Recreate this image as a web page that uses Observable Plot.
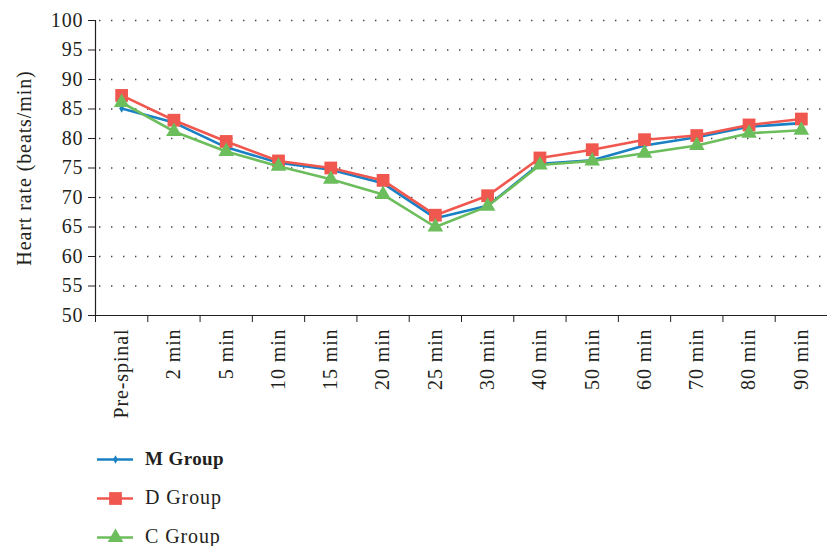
<!DOCTYPE html>
<html>
<head>
<meta charset="utf-8">
<script src="https://cdn.jsdelivr.net/npm/d3@7"></script>
<script src="https://cdn.jsdelivr.net/npm/@observablehq/plot@0.6"></script>
<style>
  html, body { margin: 0; padding: 0; background: #fff; }
  body { width: 827px; height: 546px; overflow: hidden; font-family: "Liberation Serif", "DejaVu Serif", serif; }
  #chart svg text { letter-spacing: 0.9px; }
  #legend { position: absolute; left: 97px; top: 439px; }
  .row { display: flex; align-items: center; height: 39px; }
  .row span { font-size: 20px; color: #231f20; margin-left: 12px; letter-spacing: 0.9px; }
  .row span.b { font-size: 19px; font-weight: bold; letter-spacing: 0.4px; }
</style>
</head>
<body>
<div id="chart"></div>
<div id="legend"></div>
<script>
const times = ["Pre-spinal","2 min","5 min","10 min","15 min","20 min","25 min","30 min","40 min","50 min","60 min","70 min","80 min","90 min"];
const mGroup = [85.1, 82.7, 78.5, 75.9, 74.7, 72.4, 66.5, 68.6, 75.7, 76.3, 78.8, 80.2, 82.0, 82.6];
const dGroup = [87.3, 83.1, 79.5, 76.2, 75.0, 72.9, 67.0, 70.3, 76.7, 78.1, 79.8, 80.5, 82.3, 83.3];
const cGroup = [86.1, 81.2, 77.8, 75.3, 73.1, 70.5, 65.0, 68.5, 75.5, 76.2, 77.5, 78.8, 80.9, 81.4];
const yTicks = [50, 55, 60, 65, 70, 75, 80, 85, 90, 95, 100];

const series = [
  {name: "M Group", values: mGroup, color: "#1a80c4", symbol: "diamond", r: 2.6, bold: true},
  {name: "D Group", values: dGroup, color: "#f0574f", symbol: "square", r: 7.2, bold: false},
  {name: "C Group", values: cGroup, color: "#6cbd5b", symbol: "triangle", r: 5.8, bold: false}
];

const rows = series.flatMap(s => s.values.map((v, i) => ({group: s.name, i, v})));
const idx = d3.range(times.length);
const bounds = d3.range(times.length + 1).map(i => i - 0.5);

const marks = [
  Plot.gridY(yTicks.filter(t => t > 50), {stroke: "#444", strokeOpacity: 1, strokeWidth: 1.6, strokeDasharray: "1.4 10.6", strokeDashoffset: -4}),
  Plot.ruleY([50], {stroke: "#231f20", strokeWidth: 1.2}),
  Plot.ruleX([-0.5], {stroke: "#231f20", strokeWidth: 1.2}),
  Plot.axisY(yTicks, {tickSize: 7, tickPadding: 5, fontSize: 20, stroke: "#231f20", color: "#231f20", label: null}),
  Plot.axisX(bounds, {tickSize: 7, tickFormat: () => "", stroke: "#231f20", label: null}),
  Plot.axisX(idx, {tickSize: 0, tickPadding: 13, tickRotate: -90, fontSize: 20, color: "#231f20", tickFormat: i => times[i], label: null}),
  Plot.text(["Heart rate (beats/min)"], {frameAnchor: "left", textAnchor: "middle", rotate: -90, dx: -71, fontSize: 20, fill: "#231f20"})
];
for (const s of series) {
  const data = rows.filter(d => d.group === s.name);
  marks.push(Plot.line(data, {x: "i", y: "v", stroke: s.color, strokeWidth: 2.6}));
  marks.push(Plot.dot(data, {x: "i", y: "v", fill: s.color, symbol: s.symbol, r: s.r, stroke: "none"}));
}

const chart = Plot.plot({
  width: 827,
  height: 430,
  marginLeft: 95,
  marginRight: 0,
  marginTop: 20,
  marginBottom: 115,
  style: {fontFamily: "'Liberation Serif', 'DejaVu Serif', serif", background: "#fff"},
  x: {type: "linear", domain: [-0.5, times.length - 0.5], axis: null},
  y: {domain: [50, 100], axis: null},
  marks
});
document.getElementById("chart").appendChild(chart);

const legend = document.getElementById("legend");
for (const s of series) {
  const row = document.createElement("div");
  row.className = "row";
  const mini = Plot.plot({
    width: 36, height: 20, margin: 0,
    x: {domain: [0, 2], axis: null}, y: {domain: [0, 1], axis: null},
    marks: [
      Plot.ruleY([0.5], {stroke: s.color, strokeWidth: 2.6}),
      Plot.dot([1], {x: d => d, y: 0.5, fill: s.color, symbol: s.symbol, r: s.r, stroke: "none"})
    ]
  });
  row.appendChild(mini);
  const label = document.createElement("span");
  label.textContent = s.name;
  if (s.bold) label.className = "b";
  row.appendChild(label);
  legend.appendChild(row);
}
</script>
</body>
</html>
